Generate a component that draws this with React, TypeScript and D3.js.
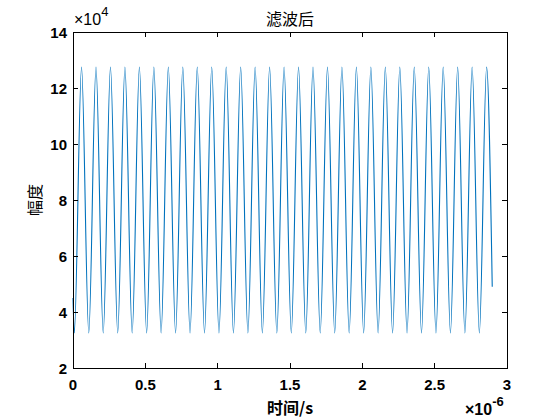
import React from "react";
import * as d3 from "d3";

// time in µs (×1e-6 s), amplitude in ×1e4 — extrema
const extremaTime = [
  0, 0.009, 0.059, 0.109, 0.159, 0.209, 0.259, 0.309, 0.359, 0.409, 0.459,
  0.509, 0.559, 0.609, 0.659, 0.709, 0.759, 0.809, 0.859, 0.909, 0.959,
  1.009, 1.059, 1.109, 1.159, 1.209, 1.259, 1.309, 1.359, 1.409, 1.459,
  1.509, 1.559, 1.609, 1.659, 1.709, 1.759, 1.809, 1.859, 1.909, 1.959,
  2.009, 2.059, 2.109, 2.159, 2.209, 2.259, 2.309, 2.359, 2.409, 2.459,
  2.509, 2.559, 2.609, 2.659, 2.709, 2.759, 2.809, 2.859, 2.898,
];
const extremaValue = [
  4.5, 3.25, 12.75, 3.25, 12.75, 3.25, 12.75, 3.25, 12.75, 3.25, 12.75,
  3.25, 12.75, 3.25, 12.75, 3.25, 12.75, 3.25, 12.75, 3.25, 12.75,
  3.25, 12.75, 3.25, 12.75, 3.25, 12.75, 3.25, 12.75, 3.25, 12.75,
  3.25, 12.75, 3.25, 12.75, 3.25, 12.75, 3.25, 12.75, 3.25, 12.75,
  3.25, 12.75, 3.25, 12.75, 3.25, 12.75, 3.25, 12.75, 3.25, 12.75,
  3.25, 12.75, 3.25, 12.75, 3.25, 12.75, 3.25, 12.75, 4.9,
];
const xTicks = [0, 0.5, 1, 1.5, 2, 2.5, 3];
const xTickLabels = ["0", "0.5", "1", "1.5", "2", "2.5", "3"];
const yTicks = [2, 4, 6, 8, 10, 12, 14];
const yTickLabels = ["2", "4", "6", "8", "10", "12", "14"];
const titleText = "滤波后";
const xLabelText = "时间/s";
const yLabelText = "幅度";

const W = 560;
const H = 420;
const L = 73, R = 507, T = 32, B = 368;
const TICK = 5;
const FONT = "'Liberation Sans', Arial, sans-serif";
const CJK = "'Noto Sans CJK SC', sans-serif";

export default function App() {
  const x = d3.scaleLinear().domain([0, 3]).range([L, R]);
  const y = d3.scaleLinear().domain([2, 14]).range([B, T]);
  const pts = extremaTime.map((t, i) => [t, extremaValue[i]] as [number, number]);
  const line = d3
    .line<[number, number]>()
    .x((d) => x(d[0]))
    .y((d) => y(d[1]))
    .curve(d3.curveMonotoneX);

  return (
    <svg
      width={W}
      height={H}
      style={{ position: "fixed", left: 0, top: 0, background: "#fff" }}
    >
      <rect x={0} y={0} width={W} height={H} fill="#fff" />
      <path d={line(pts) || ""} fill="none" stroke="#0072BD" strokeWidth={1.1} />
      {/* box */}
      <rect x={L} y={T} width={R - L} height={B - T} fill="none" stroke="#000" strokeWidth={1} shapeRendering="crispEdges" />
      {/* x ticks */}
      {xTicks.map((v, i) => (
        <g key={"x" + i}>
          <line x1={x(v)} x2={x(v)} y1={B} y2={B - TICK} stroke="#000" shapeRendering="crispEdges" />
          <line x1={x(v)} x2={x(v)} y1={T} y2={T + TICK} stroke="#000" shapeRendering="crispEdges" />
          <text x={x(v)} y={390} textAnchor="middle" fontFamily={FONT} fontWeight="bold" fontSize={15} fill="#000">
            {xTickLabels[i]}
          </text>
        </g>
      ))}
      {/* y ticks */}
      {yTicks.map((v, i) => (
        <g key={"y" + i}>
          <line x1={L} x2={L + TICK} y1={y(v)} y2={y(v)} stroke="#000" shapeRendering="crispEdges" />
          <line x1={R} x2={R - TICK} y1={y(v)} y2={y(v)} stroke="#000" shapeRendering="crispEdges" />
          <text x={67} y={y(v) + 5.5} textAnchor="end" fontFamily={FONT} fontWeight="bold" fontSize={15} fill="#000">
            {yTickLabels[i]}
          </text>
        </g>
      ))}
      {/* exponent labels */}
      <text x={74} y={25} fontFamily={FONT} fontSize={16} fill="#000">
        ×10
        <tspan dy={-9} fontSize={13}>4</tspan>
      </text>
      <text x={465} y={415} fontFamily={FONT} fontWeight="bold" fontSize={16} fill="#000">
        ×10
        <tspan dy={-9} fontSize={13}>-6</tspan>
      </text>
      {/* title */}
      <text x={(L + R) / 2} y={25} textAnchor="middle" fontFamily={CJK} fontSize={16} fill="#000">
        {titleText}
      </text>
      {/* x label */}
      <text x={(L + R) / 2} y={414} textAnchor="middle" fontFamily={CJK} fontWeight="bold" fontSize={16} fill="#000">
        {xLabelText}
      </text>
      {/* y label */}
      <text
        transform={`translate(41, ${(T + B) / 2}) rotate(-90)`}
        textAnchor="middle"
        fontFamily={CJK}
        fontSize={16}
        fill="#000"
      >
        {yLabelText}
      </text>
    </svg>
  );
}
